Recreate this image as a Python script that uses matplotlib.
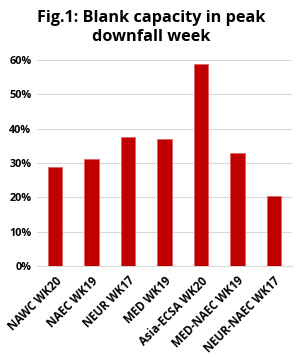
import numpy as np
import matplotlib
matplotlib.use("Agg")
import matplotlib.pyplot as plt
from matplotlib.ticker import PercentFormatter

plt.rcParams["font.family"] = ["Open Sans", "DejaVu Sans"]

routes = ["NAWC WK20", "NAEC WK19", "NEUR WK17", "MED WK19",
          "Asia-ECSA WK20", "MED-NAEC WK19", "NEUR-NAEC WK17"]
blank_share = [0.288, 0.311, 0.376, 0.370, 0.588, 0.329, 0.204]
yticks = [0.0, 0.1, 0.2, 0.3, 0.4, 0.5, 0.6]

fig = plt.figure(figsize=(3.03, 3.57), dpi=100)
ax = fig.add_axes([0.122, 0.255, 0.842, 0.577])

x = np.arange(len(routes))
ax.bar(x, blank_share, width=0.4, color="#C00000", edgecolor="#E06060",
       linewidth=0.5, zorder=3)

ax.set_xlim(-0.5, len(routes) - 0.5)
ax.set_ylim(0, 0.6)
ax.set_yticks(yticks)
ax.yaxis.set_major_formatter(PercentFormatter(1.0, decimals=0))
ax.grid(axis="y", color="#D9D9D9", linewidth=0.8, zorder=0)
for s in ["top", "right", "left"]:
    ax.spines[s].set_visible(False)
ax.spines["bottom"].set_color("#D9D9D9")
ax.tick_params(axis="y", length=0, labelsize=7.8, pad=4)
ax.tick_params(axis="x", length=0, labelsize=8.3, pad=6)
ax.set_xticks(x)
ax.set_xticklabels(routes, rotation=45, ha="right", rotation_mode="anchor",
                   fontweight="bold")
for lbl in ax.get_yticklabels():
    lbl.set_fontweight("bold")

fig.text(0.5, 0.923, "Fig.1: Blank capacity in peak\ndownfall week",
         ha="center", va="center", fontsize=11.7, fontweight="bold",
         linespacing=1.2)

fig.savefig("out.png", dpi=100)
